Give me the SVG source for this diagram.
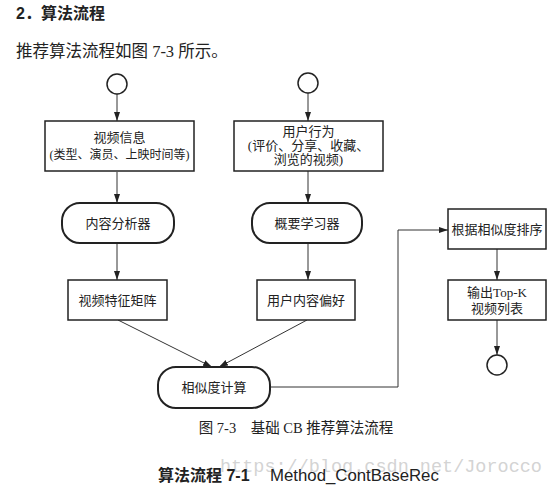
<svg xmlns="http://www.w3.org/2000/svg" width="560" height="487" viewBox="0 0 560 487">
<defs>
<marker id="ah" markerWidth="10" markerHeight="8" refX="9" refY="4" orient="auto" markerUnits="userSpaceOnUse">
<path d="M0,1 L9,4 L0,7 Z" fill="#222"/>
</marker>
<style>
.box{fill:#fff;stroke:#222;stroke-width:1.5}
.rbox{fill:#fff;stroke:#222;stroke-width:2}
.circ{fill:#fff;stroke:#222;stroke-width:1.5}
.ln{fill:none;stroke:#333;stroke-width:1}
.t{font-family:"Liberation Serif","Noto Sans CJK SC",serif;font-size:13px;fill:#222;text-anchor:middle}
.body{font-family:"Liberation Serif","Noto Sans CJK SC",serif;font-size:16.5px;fill:#222}
.h{font-family:"Liberation Sans","Noto Sans CJK SC",sans-serif;font-size:16px;font-weight:bold;fill:#222}
</style>
</defs>
<rect width="560" height="487" fill="#fff"/>
<text class="h" x="16" y="19">2．算法流程</text>
<text class="body" x="16" y="57">推荐算法流程如图 7-3 所示。</text>

<g id="connectors">
<line class="ln" x1="117" y1="94" x2="117" y2="121" marker-end="url(#ah)"/>
<line class="ln" x1="117" y1="172" x2="117" y2="203" marker-end="url(#ah)"/>
<line class="ln" x1="117" y1="243" x2="117" y2="280" marker-end="url(#ah)"/>
<line class="ln" x1="308" y1="93" x2="308" y2="121" marker-end="url(#ah)"/>
<line class="ln" x1="308" y1="171" x2="308" y2="203" marker-end="url(#ah)"/>
<line class="ln" x1="308" y1="243" x2="308" y2="280" marker-end="url(#ah)"/>
<line class="ln" x1="118" y1="320" x2="212" y2="367" marker-end="url(#ah)"/>
<line class="ln" x1="307" y1="320" x2="219" y2="367" marker-end="url(#ah)"/>
<polyline class="ln" points="270,387 398,387 398,230 448,230" marker-end="url(#ah)"/>
<line class="ln" x1="497" y1="249" x2="497" y2="280" marker-end="url(#ah)"/>
<line class="ln" x1="497" y1="320" x2="497" y2="355" marker-end="url(#ah)"/>
</g>

<g id="start1"><circle class="circ" cx="117" cy="84" r="10"/></g>
<g id="start2"><circle class="circ" cx="308" cy="83" r="10"/></g>
<g id="end"><circle class="circ" cx="497" cy="365" r="10"/></g>

<g id="video-info">
<rect class="box" x="45" y="121" width="149" height="50"/>
<text class="t" x="119.5" y="142">视频信息</text>
<text class="t" x="119.5" y="159" style="font-size:12px">(类型、演员、上映时间等)</text>
</g>
<g id="user-behavior">
<rect class="box" x="234" y="121" width="149" height="50"/>
<text class="t" x="308.5" y="136">用户行为</text>
<text class="t" x="308.5" y="150">(评价、分享、收藏、</text>
<text class="t" x="308.5" y="164">浏览的视频)</text>
</g>
<g id="content-analyzer">
<rect class="rbox" x="62" y="203" width="112" height="40" rx="18"/>
<text class="t" x="118" y="228">内容分析器</text>
</g>
<g id="profile-learner">
<rect class="rbox" x="252" y="203" width="110" height="40" rx="18"/>
<text class="t" x="307" y="228">概要学习器</text>
</g>
<g id="video-matrix">
<rect class="box" x="68" y="280" width="99" height="40"/>
<text class="t" x="117.5" y="305">视频特征矩阵</text>
</g>
<g id="user-pref">
<rect class="box" x="257" y="280" width="98" height="40"/>
<text class="t" x="306" y="305">用户内容偏好</text>
</g>
<g id="similarity">
<rect class="rbox" x="158" y="367" width="112" height="41" rx="18"/>
<text class="t" x="214" y="392">相似度计算</text>
</g>
<g id="sort">
<rect class="box" x="448" y="209" width="98" height="40"/>
<text class="t" x="497" y="234">根据相似度排序</text>
</g>
<g id="output">
<rect class="box" x="448" y="280" width="98" height="40"/>
<text class="t" x="497" y="297">输出Top-K</text>
<text class="t" x="497" y="313">视频列表</text>
</g>

<text class="t" x="296" y="433" style="font-size:14.5px">图 7-3　基础 CB 推荐算法流程</text>
<text x="220" y="472" font-family="'Liberation Mono',monospace" font-size="18.5" fill="#c8c8c8" fill-opacity="0.8">https://blog.csdn.net/Jorocco</text>
<text x="158" y="481" font-family="Liberation Sans,'Noto Sans CJK SC',sans-serif" font-size="16" fill="#222"><tspan font-weight="bold">算法流程 7-1</tspan><tspan x="270" font-size="16.8">Method_ContBaseRec</tspan></text>
</svg>
